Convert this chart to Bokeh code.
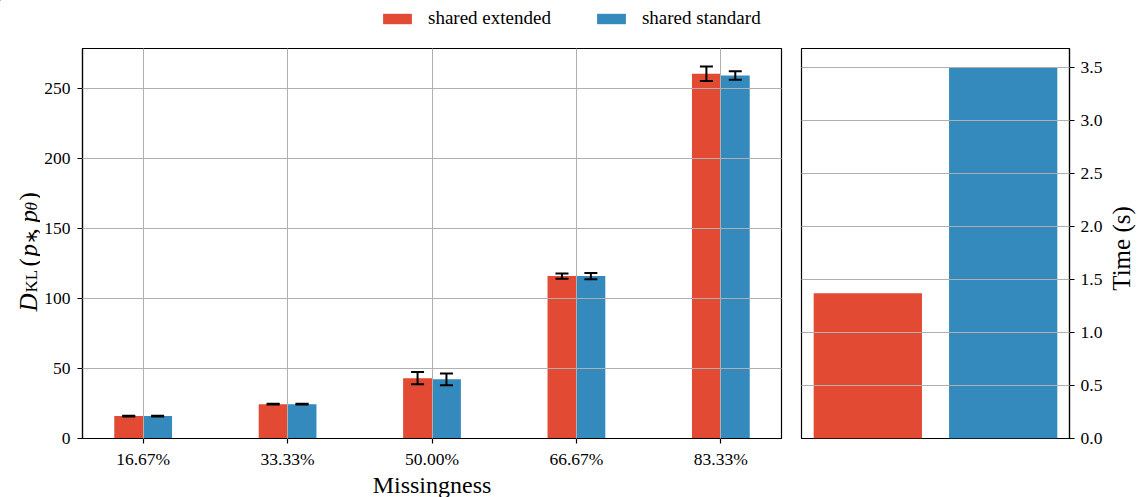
from bokeh.plotting import figure
from bokeh.models import FixedTicker, Legend, LegendItem, Range1d, ColumnDataSource
from bokeh.layouts import row, column
from bokeh.core.properties import value
from bokeh.embed import file_html
from bokeh.resources import INLINE
import math

# ---------------- data ----------------
categories = ["16.67%", "33.33%", "50.00%", "66.67%", "83.33%"]
kl_extended = [16.0, 24.5, 43.1, 116.0, 260.6]
kl_extended_err = [0.3, 0.3, 4.4, 1.8, 5.2]
kl_standard = [16.0, 24.5, 42.3, 116.0, 259.3]
kl_standard_err = [0.3, 0.3, 4.2, 2.2, 3.1]
methods = ["shared extended", "shared standard"]
time_s = [1.37, 3.5]
kl_ticks = [0, 50, 100, 150, 200, 250]
time_ticks = [0.0, 0.5, 1.0, 1.5, 2.0, 2.5, 3.0, 3.5]

RED = "#E24A33"
BLUE = "#348ABD"
FONT = "Liberation Serif"
GRID = "#b0b0b0"

TOP_H = 46      # legend strip height
ROW_H = 450     # height of the plot row
FRAME_H = 390

xi = list(range(len(categories)))
off = 0.1
cap = 0.045
src = ColumnDataSource(dict(
    xe=[i - off for i in xi],
    xs=[i + off for i in xi],
    ext=kl_extended,
    std=kl_standard,
    e_lo=[v - e for v, e in zip(kl_extended, kl_extended_err)],
    e_hi=[v + e for v, e in zip(kl_extended, kl_extended_err)],
    s_lo=[v - e for v, e in zip(kl_standard, kl_standard_err)],
    s_hi=[v + e for v, e in zip(kl_standard, kl_standard_err)],
    xe0=[i - off - cap for i in xi], xe1=[i - off + cap for i in xi],
    xs0=[i + off - cap for i in xi], xs1=[i + off + cap for i in xi],
))


def style(p):
    p.outline_line_color = "black"
    p.outline_line_width = 1.2
    p.outline_line_alpha = 1
    p.background_fill_color = "white"
    p.border_fill_color = "white"
    for ax in p.axis:
        ax.axis_line_color = "black"
        ax.axis_line_width = 1.2
        ax.major_tick_out = 5
        ax.major_tick_in = 0
        ax.major_tick_line_width = 1.2
        ax.major_tick_line_color = "black"
        ax.minor_tick_out = 0
        ax.minor_tick_in = 0
        ax.major_label_text_font = FONT
        ax.major_label_text_font_size = "17.5px"
        ax.major_label_text_color = "black"
        ax.axis_label_text_font = FONT
        ax.axis_label_text_font_style = "normal"
        ax.axis_label_text_color = "black"
    for g in p.grid:
        g.grid_line_color = GRID
        g.grid_line_width = 1
        g.level = "guide"


def blank(width, height, x0=0, y0=0):
    f = figure(frame_width=width, frame_height=height,
               x_range=Range1d(x0, x0 + width), y_range=Range1d(y0, y0 + height),
               x_axis_type=None, y_axis_type=None,
               output_backend="svg", toolbar_location=None,
               min_border=0, min_border_left=0, min_border_right=0,
               min_border_top=0, min_border_bottom=0)
    f.outline_line_color = None
    f.background_fill_color = "white"
    f.border_fill_color = "white"
    return f


# ---------------- left panel ----------------
p1 = figure(frame_width=699, frame_height=FRAME_H,
            x_range=Range1d(-0.42, 4.42), y_range=Range1d(0, 278.6),
            output_backend="svg", toolbar_location=None,
            min_border_left=42, min_border_right=10,
            min_border_top=2, min_border_bottom=ROW_H - FRAME_H - 2)
r_ext = p1.vbar(x="xe", top="ext", width=0.2, fill_color=RED, line_color=None, source=src)
r_std = p1.vbar(x="xs", top="std", width=0.2, fill_color=BLUE, line_color=None, source=src)
for xc, lo, hi, x0, x1 in [("xe", "e_lo", "e_hi", "xe0", "xe1"), ("xs", "s_lo", "s_hi", "xs0", "xs1")]:
    p1.segment(x0=xc, y0=lo, x1=xc, y1=hi, line_color="black", line_width=2, source=src)
    p1.segment(x0=x0, y0=lo, x1=x1, y1=lo, line_color="black", line_width=2, source=src)
    p1.segment(x0=x0, y0=hi, x1=x1, y1=hi, line_color="black", line_width=2, source=src)

p1.xaxis.ticker = FixedTicker(ticks=xi)
p1.xaxis.major_label_overrides = {i: c for i, c in zip(xi, categories)}
p1.yaxis.ticker = FixedTicker(ticks=kl_ticks)
style(p1)
p1.xaxis.major_label_standoff = 5
p1.yaxis.major_label_standoff = 7
p1.xaxis.axis_label = "Missingness"
p1.xaxis.axis_label_text_font_size = "24px"
p1.xaxis.axis_label_standoff = 0

# ---------------- right panel ----------------
src2 = ColumnDataSource(dict(x=[0, 1], t=time_s, c=[RED, BLUE], m=methods))
p2 = figure(frame_width=268, frame_height=FRAME_H,
            x_range=Range1d(-0.49, 1.49), y_range=Range1d(0, 3.68),
            y_axis_location="right",
            output_backend="svg", toolbar_location=None,
            min_border_left=10, min_border_right=36,
            min_border_top=2, min_border_bottom=ROW_H - FRAME_H - 2)
p2.vbar(x="x", top="t", width=0.8, fill_color="c", line_color=None, source=src2)
p2.yaxis.ticker = FixedTicker(ticks=time_ticks)
p2.yaxis.major_label_overrides = {v: f"{v:.1f}" for v in time_ticks}
style(p2)
p2.xaxis.visible = False
p2.xgrid.visible = False
p2.yaxis.major_label_standoff = 6

# ---------------- y-axis title strip (left) : D_KL(p_*, p_theta) ----------------
ylab = blank(40, ROW_H)
# (text, position along the axis in strip pixels from bottom, size, style, centre x)
parts = [
    ("D", 187, "25px", "italic", 27.5),
    ("KL", 206, "17px", "normal", 31.0),
    ("(", 232, "25px", "normal", 27.5),
    ("p", 242, "25px", "italic", 27.5),
    ("\u2217", 255, "17px", "normal", 31.0),
    (",", 264, "25px", "normal", 27.5),
    ("p", 276, "25px", "italic", 27.5),
    ("\u03b8", 288, "17px", "italic", 31.0),
    (")", 298, "25px", "normal", 27.5),
]
for t, yy, fs, st, cx in parts:
    ylab.text(x=[cx], y=[yy], text=[t], angle=math.pi / 2,
              text_font=value(FONT), text_font_size=value(fs), text_font_style=st,
              text_align="left", text_baseline="middle", text_color="black")

# ---------------- y-axis title strip (right) ----------------
rlab = blank(34, ROW_H)
rlab.text(x=[16], y=[250], text=["Time (s)"], angle=math.pi / 2,
          text_font=value(FONT), text_font_size=value("25px"),
          text_align="center", text_baseline="middle", text_color="black")

# ---------------- legend strip (top) ----------------
# legend swatches reuse the bar styling; the strip's ranges lie far away from the data
top = blank(1139, TOP_H, x0=10000, y0=-10000)
lr1 = top.vbar(x="xe", top="ext", width=0.2, fill_color=RED, line_color=None, source=src)
lr2 = top.vbar(x="xs", top="std", width=0.2, fill_color=BLUE, line_color=None, source=src)
legend = Legend(items=[LegendItem(label=methods[0], renderers=[lr1]),
                       LegendItem(label=methods[1], renderers=[lr2])],
                orientation="horizontal", location=(379, 17),
                glyph_width=36, glyph_height=13, label_standoff=13, spacing=42,
                padding=0, margin=0, border_line_alpha=0, background_fill_alpha=0,
                label_text_font=FONT, label_text_font_size="19px", label_text_color="black")
top.add_layout(legend)

layout = column(top, row(ylab, p1, p2, rlab))
open("out.html", "w").write(file_html(layout, INLINE))
